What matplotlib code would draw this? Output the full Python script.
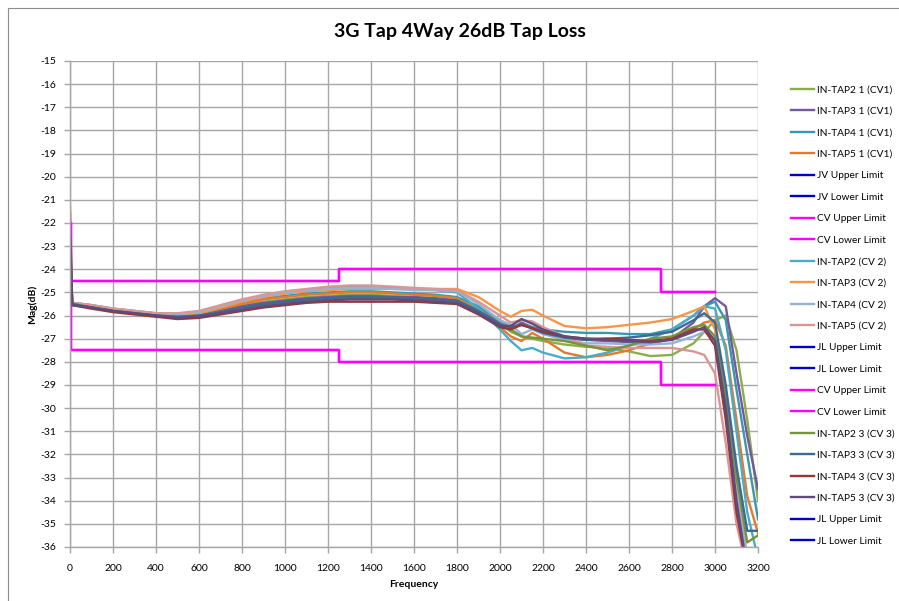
import matplotlib
matplotlib.use("Agg")
import matplotlib.pyplot as plt
from matplotlib.patches import Rectangle

plt.rcParams['font.family'] = ['Lato', 'DejaVu Sans']

title = "3G Tap 4Way 26dB Tap Loss"
x_label = "Frequency"
y_label = "Mag(dB)"
x_ticks = list(range(0, 3201, 200))
y_ticks = list(range(-36, -14))

freq = [0, 10, 100, 200, 300, 400, 500, 600, 700, 800, 900, 1000, 1100, 1200, 1300,
        1400, 1500, 1600, 1700, 1800, 1900, 2000, 2050, 2100, 2150, 2200, 2300, 2400,
        2500, 2600, 2700, 2800, 2900, 2950, 3000, 3050, 3100, 3150, 3200]

tap2_cv1 = [-22.5, -25.5, -25.6, -25.75, -25.85, -25.95, -26.0, -25.95, -25.75, -25.55, -25.4, -25.3, -25.2, -25.15, -25.1,
            -25.1, -25.15, -25.2, -25.25, -25.3, -25.7, -26.3, -26.7, -26.9, -27.0, -27.1, -27.25, -27.35,
            -27.4, -27.55, -27.75, -27.7, -27.2, -26.7, -26.2, -26.0, -27.5, -30.5, -34.0]
tap3_cv1 = [-22.0, -25.5, -25.6, -25.8, -25.9, -26.0, -26.05, -26.0, -25.8, -25.6, -25.45, -25.35, -25.25, -25.2, -25.15,
            -25.15, -25.2, -25.2, -25.25, -25.35, -25.75, -26.35, -26.6, -26.3, -26.5, -26.7, -26.95, -27.05,
            -27.1, -27.15, -27.2, -27.0, -26.3, -25.6, -25.25, -25.6, -28.5, -31.2, -33.5]
tap4_cv1 = [-22.3, -25.45, -25.55, -25.75, -25.85, -25.95, -25.95, -25.85, -25.65, -25.45, -25.25, -25.15, -25.05, -25.0, -24.95,
            -24.95, -25.0, -25.05, -25.1, -25.2, -25.6, -26.2, -26.5, -26.4, -26.5, -26.6, -26.7, -26.75,
            -26.75, -26.8, -26.8, -26.6, -26.0, -25.6, -25.4, -26.2, -29.2, -32.0, -34.8]
tap5_cv1 = [-21.6, -25.5, -25.6, -25.75, -25.85, -25.95, -26.0, -25.9, -25.7, -25.5, -25.3, -25.2, -25.1, -25.05, -25.0,
            -25.0, -25.05, -25.1, -25.15, -25.25, -25.8, -26.5, -26.9, -27.1, -26.75, -27.0, -27.6, -27.8,
            -27.7, -27.5, -27.2, -27.0, -26.6, -26.3, -26.2, -27.3, -30.5, -33.8, -35.4]
tap2_cv2 = [-22.0, -25.45, -25.55, -25.7, -25.8, -25.9, -25.95, -25.85, -25.6, -25.35, -25.15, -25.0, -24.9, -24.8, -24.75,
            -24.75, -24.8, -24.85, -24.9, -25.0, -25.7, -26.6, -27.1, -27.5, -27.4, -27.6, -27.85, -27.8,
            -27.6, -27.3, -27.0, -26.6, -26.0, -25.6, -25.7, -27.5, -31.0, -34.5, -36.5]
tap3_cv2 = [-21.5, -25.5, -25.6, -25.75, -25.85, -25.95, -26.0, -25.9, -25.65, -25.4, -25.2, -25.05, -24.95, -24.9, -24.85,
            -24.85, -24.85, -24.85, -24.85, -24.85, -25.2, -25.8, -26.05, -25.8, -25.75, -26.0, -26.45, -26.55,
            -26.5, -26.4, -26.3, -26.15, -25.8, -25.6, -26.6, -29.5, -33.0, -36.5, -37.0]
tap4_cv2 = [-22.0, -25.45, -25.55, -25.7, -25.8, -25.9, -25.95, -25.85, -25.6, -25.35, -25.15, -25.0, -24.9, -24.85, -24.8,
            -24.8, -24.85, -24.9, -24.9, -24.95, -25.5, -26.2, -26.4, -26.8, -26.6, -26.8, -27.05, -27.2,
            -27.2, -27.25, -27.25, -27.2, -26.9, -26.7, -27.0, -30.0, -33.5, -36.5, -37.0]
tap5_cv2 = [-21.3, -25.45, -25.55, -25.7, -25.8, -25.9, -25.9, -25.8, -25.55, -25.3, -25.1, -24.95, -24.85, -24.75, -24.7,
            -24.7, -24.75, -24.8, -24.85, -24.9, -25.4, -26.0, -26.3, -26.2, -26.25, -26.5, -26.9, -27.3,
            -27.35, -27.4, -27.4, -27.4, -27.55, -27.7, -28.5, -31.5, -35.0, -37.0, -37.0]
tap2_cv3 = [-22.5, -25.5, -25.65, -25.8, -25.9, -26.0, -26.05, -26.0, -25.85, -25.7, -25.55, -25.45, -25.35, -25.3, -25.25,
            -25.25, -25.25, -25.3, -25.35, -25.4, -25.85, -26.45, -26.6, -26.9, -26.95, -27.0, -27.1, -27.3,
            -27.5, -27.3, -27.0, -26.9, -26.5, -26.4, -26.9, -29.5, -33.0, -35.8, -35.5]
tap3_cv3 = [-22.5, -25.5, -25.65, -25.8, -25.9, -26.0, -26.05, -26.0, -25.85, -25.65, -25.5, -25.4, -25.3, -25.25, -25.2,
            -25.2, -25.2, -25.25, -25.3, -25.35, -25.8, -26.4, -26.5, -26.4, -26.55, -26.75, -26.95, -27.05,
            -27.0, -26.95, -26.85, -26.7, -26.2, -25.9, -26.3, -29.0, -32.5, -35.3, -35.3]
tap4_cv3 = [-22.5, -25.55, -25.7, -25.85, -25.95, -26.05, -26.15, -26.1, -25.95, -25.8, -25.65, -25.55, -25.45, -25.4, -25.4,
            -25.4, -25.4, -25.4, -25.45, -25.5, -25.95, -26.5, -26.6, -26.4, -26.55, -26.7, -26.9, -27.0,
            -27.0, -27.05, -27.1, -27.0, -26.6, -26.6, -27.3, -30.5, -34.5, -37.0, -37.0]
tap5_cv3 = [-22.5, -25.55, -25.65, -25.8, -25.9, -26.0, -26.1, -26.05, -25.9, -25.75, -25.6, -25.5, -25.4, -25.35, -25.3,
            -25.3, -25.3, -25.35, -25.4, -25.45, -25.9, -26.45, -26.45, -26.15, -26.35, -26.6, -26.9, -27.0,
            -27.05, -27.1, -27.15, -27.05, -26.7, -26.5, -27.1, -30.0, -34.0, -37.0, -37.0]

cv_upper_f = [5, 5, 1250, 1250, 2750, 2750, 3000]
cv_upper_v = [-22.0, -24.5, -24.5, -24.0, -24.0, -25.0, -25.0]
cv_lower_f = [5, 5, 1250, 1250, 2750, 2750, 3000]
cv_lower_v = [-24.5, -27.5, -27.5, -28.0, -28.0, -29.0, -29.0]

series = [
    ("IN-TAP2 1 (CV1)", freq, tap2_cv1, "#8CAD4B"),
    ("IN-TAP3 1 (CV1)", freq, tap3_cv1, "#7458A0"),
    ("IN-TAP4 1 (CV1)", freq, tap4_cv1, "#3A97AE"),
    ("IN-TAP5 1 (CV1)", freq, tap5_cv1, "#E47A2E"),
    ("JV Upper Limit", [], [], "#0000C8"),
    ("JV Lower Limit", [], [], "#0000C8"),
    ("CV Upper Limit", cv_upper_f, cv_upper_v, "#FF00FF"),
    ("CV Lower Limit", cv_lower_f, cv_lower_v, "#FF00FF"),
    ("IN-TAP2 (CV 2)", freq, tap2_cv2, "#4BACC6"),
    ("IN-TAP3 (CV 2)", freq, tap3_cv2, "#F79646"),
    ("IN-TAP4 (CV 2)", freq, tap4_cv2, "#95B3D7"),
    ("IN-TAP5 (CV 2)", freq, tap5_cv2, "#D99694"),
    ("JL Upper Limit", [], [], "#0000C8"),
    ("JL Lower Limit", [], [], "#0000C8"),
    ("CV Upper Limit", cv_upper_f, cv_upper_v, "#FF00FF"),
    ("CV Lower Limit", cv_lower_f, cv_lower_v, "#FF00FF"),
    ("IN-TAP2 3 (CV 3)", freq, tap2_cv3, "#77933C"),
    ("IN-TAP3 3 (CV 3)", freq, tap3_cv3, "#3F6894"),
    ("IN-TAP4 3 (CV 3)", freq, tap4_cv3, "#953735"),
    ("IN-TAP5 3 (CV 3)", freq, tap5_cv3, "#604A7B"),
    ("JL Upper Limit", [], [], "#0000C8"),
    ("JL Lower Limit", [], [], "#0000C8"),
]

fig = plt.figure(figsize=(8.99, 6.01), dpi=100)
fig.patches.append(Rectangle((8 / 899, -0.02), 1.0, 1 - 8 / 601 + 0.02, transform=fig.transFigure,
                             fill=False, edgecolor="#8C8C8C", linewidth=0.8))
ax = fig.add_axes([70 / 899, 1 - 547 / 601, 688 / 899, 486 / 601])

handles = []
for name, fx, fy, col in series:
    h, = ax.plot(fx, fy, color=col, linewidth=1.7, label=name, solid_joinstyle="round")
    handles.append(h)

ax.set_xlim(0, 3200)
ax.set_ylim(-36, -15)
ax.set_xticks(x_ticks)
ax.set_yticks(y_ticks)
ax.set_xticklabels([str(t) for t in x_ticks], fontsize=7.5)
ax.set_yticklabels([str(t) for t in y_ticks], fontsize=7.5)
ax.grid(True, color="#A6A6A6", linewidth=1.0)
ax.set_axisbelow(True)
for s in ["top", "right"]:
    ax.spines[s].set_visible(False)
for s in ["left", "bottom"]:
    ax.spines[s].set_color("#A6A6A6")
    ax.spines[s].set_linewidth(1.0)
ax.tick_params(axis="both", direction="out", length=4, color="#A6A6A6", width=1.0, labelcolor="#000000")
ax.tick_params(axis="x", pad=8)
ax.tick_params(axis="y", pad=6)

ax.set_xlabel(x_label, fontsize=7.5, fontweight="bold", labelpad=5)
ax.set_ylabel(y_label, fontsize=7.5, fontweight="bold", labelpad=2)
fig.text(460 / 899, 1 - 32 / 601, title, ha="center", va="center", fontsize=14, fontweight="bold")

leg = fig.legend(handles=handles, loc="upper left", bbox_to_anchor=(787 / 899, 1 - 81 / 601),
                 frameon=False, fontsize=7.3, handlelength=2.3, handletextpad=0.25,
                 labelspacing=1.225, borderaxespad=0)

fig.savefig("out.png", dpi=100)
